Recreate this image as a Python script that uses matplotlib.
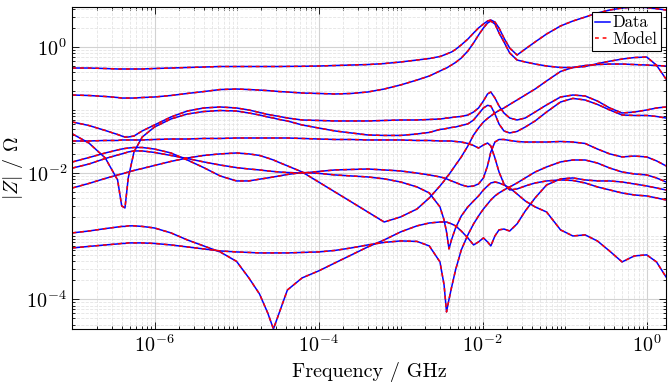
import matplotlib
matplotlib.use("Agg")
import matplotlib.pyplot as plt
import matplotlib.ticker as mticker
import numpy as np

plt.rcParams["font.family"] = "serif"
plt.rcParams["font.serif"] = ["cmr10"]
plt.rcParams["mathtext.fontset"] = "cm"
plt.rcParams["axes.formatter.use_mathtext"] = True

# frequency sweep (GHz)
freq_ghz = [1.000e-7, 1.585e-7, 2.512e-7, 3.548e-7, 3.981e-7, 4.365e-7, 4.786e-7, 5.623e-7,
            7.079e-7, 1.000e-6, 1.585e-6, 2.512e-6, 3.981e-6, 6.310e-6, 1.000e-5, 1.413e-5,
            1.905e-5, 2.399e-5, 2.818e-5, 3.311e-5, 4.169e-5, 6.310e-5, 1.000e-4, 1.585e-4,
            2.512e-4, 3.981e-4, 6.310e-4, 1.000e-3, 1.585e-3, 2.239e-3, 3.020e-3, 3.388e-3,
            3.631e-3, 3.890e-3, 4.169e-3, 4.677e-3, 5.495e-3, 6.607e-3, 7.762e-3, 8.913e-3,
            1.023e-2, 1.148e-2, 1.259e-2, 1.413e-2, 1.585e-2, 1.820e-2, 2.138e-2, 2.630e-2,
            3.311e-2, 4.365e-2, 6.026e-2, 8.913e-2, 0.1259, 0.1778, 0.2512, 0.3548,
            0.5012, 0.7079, 1.000, 1.318, 1.72]

# |Z| in Ohm, one list per impedance trace
z_a = [0.460, 0.460, 0.452, 0.444, 0.444, 0.444, 0.444, 0.444, 0.444, 0.452, 0.460, 0.469,
       0.477, 0.486, 0.486, 0.486, 0.486, 0.486, 0.486, 0.486, 0.488, 0.490, 0.495, 0.504,
       0.513, 0.522, 0.541, 0.573, 0.616, 0.650, 0.700, 0.739, 0.766, 0.795, 0.824, 0.905,
       1.07, 1.32, 1.65, 1.98, 2.29, 2.55, 2.65, 2.46, 1.98, 1.37, 0.954, 0.739,
       0.92, 1.19, 1.59, 2.13, 2.55, 2.95, 3.42, 3.81, 4.10, 4.25, 4.17, 4.00, 3.81]
z_b = [0.172, 0.169, 0.163, 0.157, 0.154, 0.154, 0.154, 0.154, 0.157, 0.160, 0.169, 0.182,
       0.195, 0.210, 0.214, 0.210, 0.206, 0.202, 0.199, 0.195, 0.192, 0.185, 0.182, 0.1785,
       0.182, 0.192, 0.214, 0.248, 0.297, 0.344, 0.413, 0.444, 0.460, 0.486, 0.513, 0.563,
       0.662, 0.855, 1.15, 1.53, 1.98, 2.37, 2.55, 2.29, 1.65, 1.19, 0.795, 0.616,
       0.573, 0.532, 0.495, 0.469, 0.469, 0.486, 0.541, 0.590, 0.638, 0.674, 0.687, 0.51, 0.308]
z_c = [0.0643, 0.0566, 0.0472, 0.0408, 0.0386, 0.0372, 0.0372, 0.0386, 0.0464, 0.0577, 0.0772, 0.0960,
       0.1072, 0.1112, 0.1072, 0.0996, 0.0910, 0.0846, 0.0816, 0.0787, 0.0744, 0.0692, 0.0680, 0.0668,
       0.0668, 0.0668, 0.0680, 0.0692, 0.0692, 0.0705, 0.0718, 0.0731, 0.0744, 0.0744, 0.0758, 0.0772,
       0.0787, 0.0830, 0.0926, 0.1072, 0.1385, 0.1785, 0.192, 0.1543, 0.1153, 0.0893, 0.0744, 0.0692,
       0.0744, 0.0926, 0.120, 0.160, 0.172, 0.166, 0.138, 0.1072, 0.0893, 0.0926, 0.0996, 0.1072, 0.1112]
z_d = [0.0416, 0.0299, 0.0173, 0.00778, 0.00302, 0.00280, 0.00837, 0.0216, 0.0372, 0.0536, 0.0718, 0.0861,
       0.0942, 0.0978, 0.0960, 0.0893, 0.0830, 0.0772, 0.0744, 0.0705, 0.0668, 0.0577, 0.0517, 0.0464,
       0.0431, 0.0401, 0.0394, 0.0394, 0.0416, 0.0440, 0.0490, 0.0499, 0.0508, 0.0517, 0.0527, 0.0536,
       0.0566, 0.0600, 0.0692, 0.0861, 0.1072, 0.118, 0.1153, 0.0861, 0.0598, 0.0464, 0.0431, 0.0456,
       0.0536, 0.0668, 0.0926, 0.1334, 0.152, 0.1434, 0.122, 0.0996, 0.0830, 0.0816, 0.0816, 0.0787, 0.0744]
z_e = [0.0322, 0.0322, 0.0328, 0.0328, 0.0334, 0.0334, 0.0334, 0.0334, 0.0334, 0.0340, 0.0346, 0.0346,
       0.0353, 0.0353, 0.0359, 0.0359, 0.0359, 0.0359, 0.0359, 0.0359, 0.0359, 0.0353, 0.0346, 0.0340,
       0.0340, 0.0334, 0.0334, 0.0334, 0.0328, 0.0328, 0.0322, 0.0322, 0.0322, 0.0322, 0.0322, 0.0316,
       0.0310, 0.0294, 0.0273, 0.0249, 0.0278, 0.0299, 0.0268, 0.0173, 0.0104, 0.00672, 0.0054, 0.0056,
       0.00625, 0.00697, 0.0075, 0.00778, 0.00763, 0.00697, 0.00603, 0.0054, 0.00484, 0.0045, 0.00434,
       0.00404, 0.00375]
z_f = [0.0150, 0.0176, 0.0208, 0.0232, 0.0240, 0.0245, 0.0249, 0.0254, 0.0254, 0.0240, 0.0208, 0.0161,
       0.0122, 0.0090, 0.0075, 0.0075, 0.0080, 0.00837, 0.00868, 0.0090, 0.0095, 0.0102, 0.0099, 0.00934,
       0.0090, 0.00868, 0.0081, 0.00723, 0.00603, 0.00484, 0.00291, 0.00181, 0.00117, 0.00063, 0.000874,
       0.00135, 0.00209, 0.00291, 0.00362, 0.00434, 0.0054, 0.00625, 0.00697, 0.00723, 0.00697, 0.00648,
       0.00581, 0.00467, 0.00362, 0.00291, 0.00242, 0.00126, 0.00101, 0.00105, 0.00084, 0.00058,
       0.000392, 0.000488, 0.000507, 0.000392, 0.000227]
z_g = [0.0120, 0.0139, 0.0170, 0.0193, 0.0201, 0.0208, 0.0216, 0.0224, 0.0224, 0.0212, 0.0190, 0.0170,
       0.0150, 0.0134, 0.0122, 0.0116, 0.0112, 0.0108, 0.0106, 0.0104, 0.0102, 0.0100, 0.0106, 0.0112,
       0.0114, 0.0116, 0.0112, 0.0108, 0.0100, 0.00934, 0.00868, 0.00837, 0.0081, 0.00778, 0.0075, 0.0071,
       0.0065, 0.0061, 0.00625, 0.00672, 0.00837, 0.0130, 0.0216, 0.0310, 0.0340, 0.0340, 0.0328, 0.0316,
       0.0310, 0.0310, 0.0310, 0.0316, 0.0310, 0.0294, 0.0240, 0.0201, 0.0180, 0.0186, 0.0180, 0.0156, 0.0130]
z_h = [0.00581, 0.00685, 0.00822, 0.00934, 0.00968, 0.0100, 0.0104, 0.0110, 0.0118, 0.0132, 0.0153, 0.0173,
       0.0190, 0.0201, 0.0208, 0.0201, 0.0190, 0.0173, 0.0161, 0.0147, 0.0130, 0.0104, 0.00723, 0.00502,
       0.00349, 0.00242, 0.00168, 0.00202, 0.0027, 0.00404, 0.00625, 0.0075, 0.00852, 0.0095, 0.0108, 0.0134,
       0.0180, 0.0268, 0.0401, 0.0517, 0.0643, 0.0731, 0.0801, 0.0893, 0.0978, 0.1072, 0.122, 0.1434,
       0.172, 0.214, 0.287, 0.406, 0.469, 0.504, 0.522, 0.532, 0.532, 0.522, 0.513, 0.504, 0.495]
z_i = [0.00113, 0.00121, 0.00132, 0.00140, 0.00143, 0.00143, 0.00146, 0.00146, 0.00143, 0.00135, 0.00113,
       0.000874, 0.000702, 0.000564, 0.000400, 0.000219, 0.000122, 0.0000611, 0.0000341, 0.0000611,
       0.000141, 0.000219, 0.000282, 0.000378, 0.000506, 0.000677, 0.000874, 0.00117, 0.00146, 0.00162,
       0.00168, 0.00168, 0.00168, 0.00162, 0.00157, 0.00146, 0.00121, 0.00094, 0.000728, 0.000813,
       0.00094, 0.000813, 0.000702, 0.00101, 0.00126, 0.00130, 0.00121, 0.00157, 0.00251, 0.00404,
       0.00648, 0.00807, 0.00837, 0.00778, 0.0075, 0.0075, 0.00723, 0.00672, 0.00625, 0.00581, 0.0054]
z_j = [0.000653, 0.00069, 0.000728, 0.000755, 0.000769, 0.000769, 0.000784, 0.000784, 0.000784, 0.000769,
       0.000728, 0.000677, 0.00063, 0.000585, 0.000564, 0.000554, 0.000544, 0.000544, 0.000544, 0.000544,
       0.000544, 0.000554, 0.000564, 0.000596, 0.000653, 0.000728, 0.000798, 0.000843, 0.000828, 0.000702,
       0.000392, 0.00017, 0.0000634, 0.0001, 0.000152, 0.000293, 0.000607, 0.00105, 0.00157, 0.00209,
       0.0027, 0.00324, 0.00375, 0.00434, 0.00484, 0.0054, 0.00603, 0.00697, 0.00837, 0.0104, 0.0125,
       0.0150, 0.0161, 0.0161, 0.0144, 0.0120, 0.0104, 0.00968, 0.00934, 0.00837, 0.00723]

traces = [z_a, z_b, z_c, z_d, z_e, z_f, z_g, z_h, z_i, z_j]

x_ticks = [1e-6, 1e-4, 1e-2, 1e0]
y_ticks = [1e-4, 1e-2, 1e0]

fig = plt.figure(figsize=(6.68, 3.83), dpi=100)
ax = fig.add_axes([0.1085, 0.141, 0.8885, 0.8415])

for z in traces:
    data_line, = ax.plot(freq_ghz, z, color="#0000ff", lw=1.1)
for z in traces:
    model_line, = ax.plot(freq_ghz, z, color="#ff0000", lw=1.1, ls=(0, (2.5, 2.5)))

ax.set_xscale("log")
ax.set_yscale("log")
ax.set_xlim(1e-7, 1.72)
ax.set_ylim(3.4e-5, 4.3)

ax.xaxis.set_major_locator(mticker.FixedLocator(x_ticks))
ax.yaxis.set_major_locator(mticker.FixedLocator(y_ticks))
for axis in (ax.xaxis, ax.yaxis):
    axis.set_major_formatter(mticker.LogFormatterSciNotation(base=10))
    axis.set_minor_locator(mticker.LogLocator(base=10.0, subs=np.arange(1, 10), numticks=100))
    axis.set_minor_formatter(mticker.NullFormatter())

ax.set_axisbelow(True)
ax.grid(True, which="major", color="#d2d2d2", lw=0.8)
ax.grid(True, which="minor", color="#e4e4e4", lw=0.6, ls="--")

ax.tick_params(which="both", direction="in", top=True, right=True, width=0.6, labelsize=14.5, pad=4)
ax.tick_params(which="major", length=5)
ax.tick_params(which="minor", length=2.5)
for s in ax.spines.values():
    s.set_linewidth(0.8)

ax.set_xlabel("Frequency / GHz", fontsize=14.5, labelpad=4)
ax.set_ylabel(r"$|Z|$ / $\Omega$", fontsize=14.5, labelpad=1)

leg = ax.legend([data_line, model_line], ["Data", "Model"], loc="upper right", fontsize=12,
                fancybox=False, edgecolor="black", framealpha=1, handlelength=0.9,
                handletextpad=0.15, borderpad=0.2, borderaxespad=0.3, labelspacing=0.1)
leg.get_frame().set_linewidth(0.8)

fig.savefig("out.png", dpi=100)
